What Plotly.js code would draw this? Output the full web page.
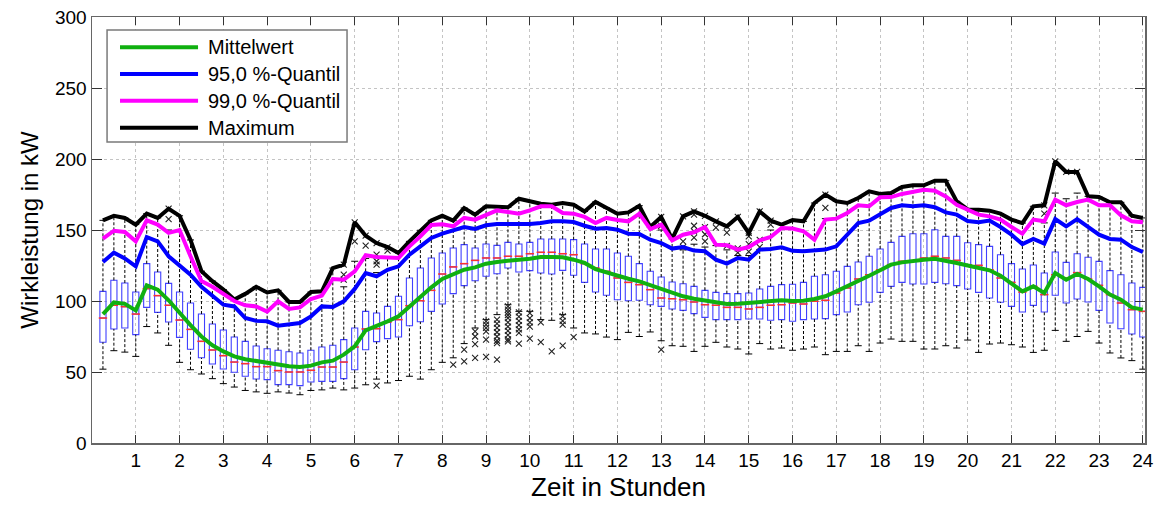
<!DOCTYPE html>
<html>
<head>
<meta charset="utf-8">
<script src="https://cdn.plot.ly/plotly-3.0.1.min.js"></script>
<style>html,body{margin:0;padding:0;background:#fff;}#chart{width:1164px;height:506px;}</style>
</head>
<body>
<div id="chart"></div>
<script>
// 96 quarter-hour slots (0:15 ... 24:00)
const maxV = [156.8,160,158.5,153.8,161.5,158.5,165,160,143,121,114,108,101,105,110,106,
107.5,99.3,99.3,106.3,106.8,123.2,125.6,155.4,146,140.8,138,133.8,142,149.8,156.8,160,
156.6,165.5,160.8,166.7,166.7,166,172,170.2,168.5,167.8,169,167.8,163,169.7,165.5,161.5,
162.4,167.1,152.1,159.2,143.7,159.6,163.1,160,156.1,152.6,159.2,147.9,163.1,156.6,153.8,157,
156.1,169,174.9,170.2,169,172.5,177.2,175.4,176.1,180.3,181.5,181.5,184.7,184.7,170.2,164.5,
164.3,163.6,161.5,157.3,154.9,166.7,167.4,198.4,190.9,190.9,173.7,173.2,169.5,169.5,160,158.5];

const p99 = [144,149.5,148.6,142,156.8,153.8,148,150,131.5,114,110,105,100,97,96.2,92.5,
99.8,94.4,95.5,101.4,103.8,115.5,115,120.9,132.2,131,131,130.3,138.5,145.5,153.5,154,
152.6,158.5,157.3,160.8,163.8,162.7,161.5,163.8,166.7,166.7,162,161.5,159.2,154.9,158.5,157,
156.1,161.5,150.7,153.8,142.7,146.7,148.4,152.1,139.7,139.2,136.2,138,142.7,145.1,151.4,151,
149.1,143.2,157.3,158,162,167.4,166.7,173,173.2,175.4,177.2,178.4,177.7,173.7,167.8,164,
160.8,159.6,157.3,152.1,147.4,157.3,156.1,171.4,167.4,169.7,171.4,167.4,167.4,160.3,156.1,155.4];

const p95 = [127.5,134,130,124.4,145,142,131.5,125,118.5,110,104,97.4,96.2,88,86,85.7,
82.6,83.3,84.5,89.2,96.2,95.8,99.8,108.5,119.7,117.4,122,124.4,132.6,138.5,144.4,147.5,
149.8,152.1,150.7,153.3,154.2,154.2,153.8,154.2,154.9,156.1,156.1,155.6,153,150.9,151.4,150.2,
147.4,147.2,143.2,140.8,136.9,138,135.5,135,129.1,126.3,130.3,129.1,136.2,136.6,137.8,135.3,
135,135.5,136.2,138.5,146.7,154.9,156.6,160.8,165.5,167.4,166.7,167.4,166,162.4,160.8,156.3,
155.4,156.6,152.1,146.7,140.1,143.7,140.4,157.7,152.6,157.7,152.6,146.7,143.7,143.2,138,134.5];

const meanV = [90.8,99,98,93.4,111,108,100.5,91.5,83,75,68.8,64.5,61,59,57.7,56.9,
55.2,54,53.5,54.5,56.8,58,62.2,68,79.3,82.2,85.7,89.2,96.2,103.3,109.6,115.5,
118.5,122,123.7,126.3,127.5,128.6,129.1,129.8,131,131,130.8,129.1,126.8,122.5,120.2,117.6,
115.7,113.8,111,108.7,105.6,103.3,101.6,100.2,98.6,97.9,98.1,98.6,99,99.8,100.5,100,
100.2,101.4,103.3,106.8,110.3,113.8,117.8,121.6,125.6,127.2,128.4,129.1,129.8,128.6,126.8,125,
123.2,121.6,117.8,112.2,106.8,110.3,105.6,119.7,115,119,115.5,110.3,104.5,100.9,95.5,93.9];

const q3 = [106.8,114.6,112.7,106.3,126.3,120.4,112.4,106.3,98.6,90.8,83.8,79.6,74.6,71.6,68.3,66.4,
65.3,64.3,63.4,65.3,67.6,68.8,72.8,81,92.7,91.5,96.2,103.3,116.2,123.2,130.3,133.8,
137.3,139.7,137.3,140.1,139.2,141.3,140.1,141.3,143.7,143.7,143.7,143.2,140.1,136.6,136.6,133.8,
131.5,126.3,120.9,116.9,113.4,112.2,110.3,107.5,106.1,105.2,105.2,105.6,108.5,110.3,111.5,111.8,
113.1,117.4,118.5,120.9,124.4,127.5,131.5,136.6,141.3,145.5,147.4,147.4,150.2,145.5,145.5,141,
139.7,138.5,132.6,126.3,122.5,125.4,119.7,134.5,127.2,133.3,130.8,127.9,121.4,118.5,112.7,109.6];

const q1 = [70.9,80.3,81,76.3,95.5,92,85.2,74.4,66,60,55.6,52.1,49.8,47,45.1,44.6,
41.1,41.1,40.4,43,43.4,43.4,45.3,51.6,65.7,71.4,73.5,74.6,82.6,85.4,92.7,97.9,
105.2,110.8,114.3,117.4,119.2,123.2,120.4,121.4,119.7,119,121.6,118.1,113.1,106.3,104,100.9,
100.2,100.5,97.4,96.2,94.4,93.4,91.1,88.5,86.9,86.9,86.9,87.3,87.3,86.4,86.9,85.7,
86.9,87.3,87.6,90.4,92.3,97.4,99.1,106.1,110.3,113.1,112,112,113.1,112.2,110.8,108.5,
106.1,102.1,99.1,96.2,92.3,96.9,92.3,104,98.6,101.4,99.3,93.4,84.5,80.5,76.8,74.6];

const med = [88,97,96,90.8,108.7,103.8,97,86.6,80,71.6,65.5,61.5,57,55.9,53.8,53.8,
51,50,50,51.2,53.5,53.5,57,67.6,80.3,80.5,85.2,86.9,96.7,100.2,107.5,119,
124,126.3,128.6,130.3,130.3,131.5,131.5,133.3,134.3,134.3,133.3,132.6,126.3,123.2,120.9,116.2,
113.1,111.5,108,102.1,101.6,100.9,99.3,97.4,97,95.5,95.5,94.4,95.5,97,97.4,98.6,
97.9,99.8,100.5,105.6,109.2,115.5,118.5,122,125.6,128,128.4,130.3,131.5,130.3,128.6,125.5,
125.1,122,116.2,113.1,106.3,110.3,104.5,118.5,116.2,120,115.5,111,104.5,98.6,93.9,92.7];

const lowW = [52,65,64,61,82,77.5,68.8,56.8,51.6,48.6,45.3,41.8,39.4,37,36,35,
36,35.2,34,37,37.4,38.7,37.4,38.7,41,45,42.3,44,47,45,51.6,56.8,
60,70,81,86.9,90.4,97.4,92.7,92.7,86.9,86.4,90.4,81,77.5,76.8,74.6,72.8,
77.9,75,78.2,72,68.5,68.1,64.5,68.1,70.9,67.6,66.2,62.7,70,66.2,66.9,65.3,
66.2,67.6,62.2,64.5,64.5,68.5,64.5,70.4,73.2,71.6,71.6,66.2,66.2,68.5,66.9,72.5,
63.8,69.7,70.4,69.2,67.6,63.8,65.3,79.3,71.6,75,78.6,70.4,63.4,59.9,58,52];

const upW = [156.8,160,158.5,153.8,161.5,158.5,150,160,143,121,114,108,101,105,110,106,
107.5,99.3,99.3,106.3,106.8,123.2,110,128,130,120,130,133.8,142,149.8,156.8,160,
156.6,165.5,160.8,166.7,166.7,166,172,170.2,168.5,167.8,169,167.8,163,169.7,165.5,161.5,
162.4,167.1,152.1,150,143.7,136,140,138,139,136,132,132,136,150,153.8,157,
156.1,169,158,170.2,169,172.5,177.2,175.4,176.1,180.3,181.5,181.5,184.7,184.7,170.2,164.5,
164.3,163.6,161.5,157.3,154.9,166.7,155,176,172,176,173.7,173.2,169.5,169.5,160,158.5];

// outliers (hour, value)
const outHour = [1.75,1.75,
5.75,5.75,5.75, 6,6, 6.25,6.25, 6.5,6.5,6.5,6.5,6.5, 6.75,6.75,
8.25, 8.5,8.5, 8.75,8.75,8.75,8.75, 9,9,9,9,9,9,
9.25,9.25,9.25,9.25,9.25,9.25,9.25,9.25,
9.5,9.5,9.5,9.5,9.5,9.5,9.5,9.5,9.5,9.5,9.5,
9.75,9.75,9.75,9.75,9.75,9.75,9.75,
10,10,10,10,10, 10.25,10.25, 10.5, 10.75,10.75,10.75,10.75, 11,
13,13,13, 13.5,13.5,13.5, 13.75,13.75,13.75,13.75,13.75, 14,14,14,14, 14.25,14.25,
14.5,14.5,14.5, 14.75,14.75,14.75, 15,15,15,15, 15.25,15.25,15.25, 15.5,15.5,
16.75,16.75, 21.75,21.75, 22,22.25,22.5];
const outValue = [157.7,165,
118.5,115,125.6, 142,155.4, 139,146, 132.6,128,125.6,140.8,40.4, 135.5,138,
55.2, 65.7,57.5, 78.6,75,69.7,59.9, 85.7,83.3,81,78.6,72.8,60.6,
86.9,84,81,78,75,72,70.4,58.7,
96.2,94,92,90,88,85,82,79,76,73,71.6,
92,89,86,83,80,77.5,70,
91.5,88,85,82,73.5, 85,71, 64.5, 89.2,86,83.3,68.5, 74.6,
153,159.2,65.7, 142,138,159.6, 160.8,153,149,144.7,163.1, 152,147,142,160, 151.6,156.1,
148.2,138.8,152.6, 137,134,159.2, 145.5,140,134.8,147.9, 143,138,163.1, 153.8,156.6,
165.6,174.9, 161.5,167.4, 198.4,190.9,190.9];

const xTicks = [1,2,3,4,5,6,7,8,9,10,11,12,13,14,15,16,17,18,19,20,21,22,23,24];
const yTicks = [0,50,100,150,200,250,300];

const legendNames = ['Mittelwert', '95,0 %-Quantil', '99,0 %-Quantil', 'Maximum'];
const legendColors = ['#10b010', '#0000ff', '#ff00ff', '#000000'];

// quarter-hour positions
const hours = maxV.map((_, i) => (i + 1) / 4);

// whisker segments built from data
const wx = [], wy = [];
hours.forEach((h, i) => {
  wx.push(h, h, null, h, h, null);
  wy.push(lowW[i], q1[i], null, q3[i], upW[i], null);
});

const FONT = "'Liberation Sans', Arial, sans-serif";
const LW = 4;

const traces = [
  {type:'scatter', mode:'lines', x:wx, y:wy, line:{color:'#000', width:1, dash:'3px,2px'},
   showlegend:false, hoverinfo:'skip', connectgaps:false},
  {type:'scatter', mode:'markers', x:hours.concat(hours), y:lowW.concat(upW),
   marker:{symbol:'line-ew', size:5, color:'#000', line:{color:'#000', width:1}},
   showlegend:false, hoverinfo:'skip'},
  {type:'box', x:hours, q1:q1, median:med, q3:q3, lowerfence:q1, upperfence:q3,
   width:0.14, whiskerwidth:0, line:{color:'#4040ff', width:1.1}, fillcolor:'rgba(255,255,255,0)',
   showlegend:false, hoverinfo:'skip', boxpoints:false},
  {type:'scatter', mode:'markers', x:hours, y:med,
   marker:{symbol:'line-ew', size:6, color:'#ff3030', line:{color:'#ff3030', width:1.5}},
   showlegend:false, hoverinfo:'skip'},
  {type:'scatter', mode:'markers', x:outHour, y:outValue,
   marker:{symbol:'x-thin', size:6, color:'#222', line:{color:'#222', width:1.1}},
   showlegend:false, hoverinfo:'skip'},
  {type:'scatter', mode:'lines', name:legendNames[3], x:hours, y:maxV, line:{color:legendColors[3], width:LW}, showlegend:false},
  {type:'scatter', mode:'lines', name:legendNames[2], x:hours, y:p99, line:{color:legendColors[2], width:LW}, showlegend:false},
  {type:'scatter', mode:'lines', name:legendNames[1], x:hours, y:p95, line:{color:legendColors[1], width:LW}, showlegend:false},
  {type:'scatter', mode:'lines', name:legendNames[0], x:hours, y:meanV, line:{color:legendColors[0], width:LW}, showlegend:false}
];

// legend drawn as a framed box inside the plot area (x/y domain coordinates)
const legX0 = 0.0143, legX1 = 0.2422, legY0 = 0.7066, legY1 = 0.9695;
const legLineX0 = 0.0266, legLineX1 = 0.1007, legTextX = 0.1085;
const legRowY = [0.9289, 0.8662, 0.8035, 0.7401];

const shapes = [{type:'rect', xref:'x domain', yref:'y domain', x0:legX0, x1:legX1, y0:legY0, y1:legY1,
  line:{color:'#7a7a7a', width:1.5}, fillcolor:'#ffffff', layer:'above'}];
const annotations = [];
legendNames.forEach((n, i) => {
  shapes.push({type:'line', xref:'x domain', yref:'y domain', x0:legLineX0, x1:legLineX1, y0:legRowY[i], y1:legRowY[i],
    line:{color:legendColors[i], width:LW}, layer:'above'});
  annotations.push({xref:'x domain', yref:'y domain', x:legTextX, y:legRowY[i], xanchor:'left', yanchor:'middle',
    text:n, showarrow:false, font:{size:20, family:FONT, color:'#000'}});
});

const layout = {
  width:1164, height:506,
  margin:{l:92, r:19, t:17, b:63},
  paper_bgcolor:'#fff', plot_bgcolor:'#fff',
  font:{family:FONT, color:'#000', size:19},
  showlegend:false,
  shapes:shapes, annotations:annotations,
  xaxis:{range:[0, 24.05], tickvals:xTicks, ticktext:xTicks.map(String), ticks:'inside', ticklen:8,
         tickcolor:'#333', showline:true, linecolor:'#666', linewidth:1.5, mirror:'ticks',
         showgrid:true, gridcolor:'#c4c4c4', griddash:'dot', gridwidth:1, zeroline:false,
         tickfont:{size:19}, title:{text:'Zeit in Stunden', font:{size:26}, standoff:7}},
  yaxis:{range:[0, 300], tickvals:yTicks, ticks:'inside', ticklen:10,
         tickcolor:'#333', showline:true, linecolor:'#666', linewidth:1.5, mirror:'ticks',
         showgrid:true, gridcolor:'#c4c4c4', griddash:'dot', gridwidth:1, zeroline:false,
         tickfont:{size:19}, title:{text:'Wirkleistung in kW', font:{size:24}, standoff:9}},
  boxmode:'overlay'
};

Plotly.newPlot('chart', traces, layout, {displayModeBar:false, staticPlot:true});
</script>
</body>
</html>
